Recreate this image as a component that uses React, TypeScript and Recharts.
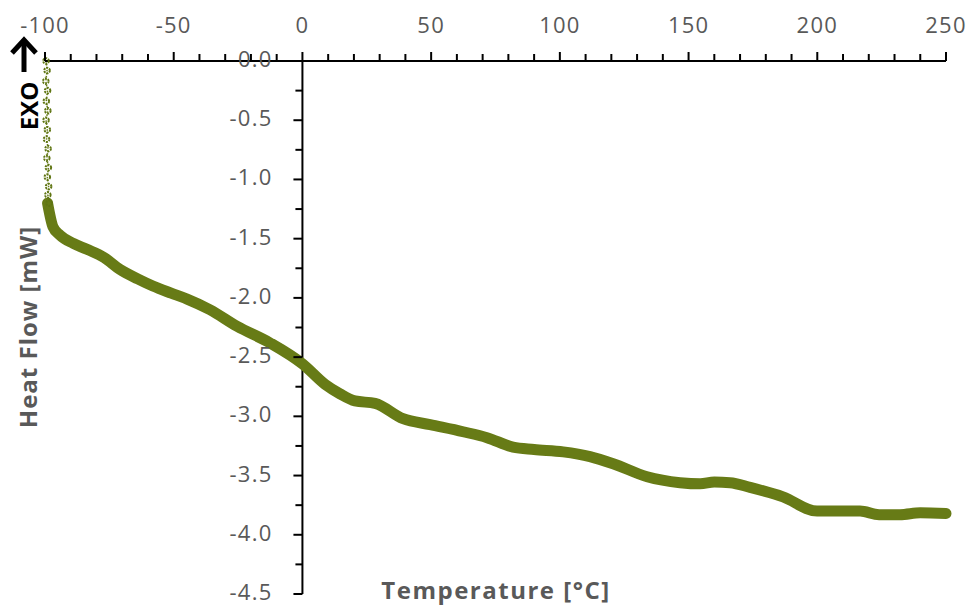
import React from 'react';
import {
    ComposedChart,
    Line,
    XAxis,
    YAxis,
    ReferenceLine,
    ReferenceDot
} from 'recharts';

// steep onset right at the start of the run (sparse markers)
const onsetTemperature = [
    -99.6, -99.2, -99.7, -99.0, -99.5, -98.9, -99.6, -99.1, -99.4, -98.8, -99.3, -98.7,
    -99.1, -98.6, -98.9, -98.4
];
const onsetHeatFlow = [
    0.0, -0.08, -0.17, -0.25, -0.34, -0.42, -0.5, -0.58, -0.66, -0.74, -0.82, -0.9,
    -0.98, -1.06, -1.13, -1.2
];

// main heat flow trace
const temperature = [
    -99.0, -96.9, -94.2, -89.0, -83.7, -77.0, -70.9, -64.0, -58.1, -51.0, -44.8, -35.9,
    -25.4, -12.6, 0.2, 8.8, 14.6, 20.4, 28.2, 39.1, 49.6, 62.4, 71.7, 81.8, 90.0,
    101.3, 111.7, 120.7, 133.9, 146.7, 154.5, 160.0, 166.1, 173.9, 186.7, 199.9,
    216.6, 224.0, 232.1, 240.0, 250.0
];
const heatFlow = [
    -1.2, -1.40, -1.47, -1.54, -1.59, -1.66, -1.76, -1.84, -1.90, -1.96, -2.01, -2.10,
    -2.24, -2.38, -2.56, -2.73, -2.81, -2.87, -2.89, -3.02, -3.07, -3.13, -3.18, -3.26, -3.28,
    -3.30, -3.34, -3.40, -3.51, -3.56, -3.57, -3.555, -3.56, -3.60, -3.68, -3.80,
    -3.80, -3.83, -3.83, -3.815, -3.82
];

const xTicks = [
    -100, -90, -80, -70, -60, -50, -40, -30, -20, -10, 0, 10, 20, 30, 40, 50, 60, 70, 80, 90,
    100, 110, 120, 130, 140, 150, 160, 170, 180, 190, 200, 210, 220, 230, 240, 250
];
const xLabels = [-100, -50, 0, 50, 100, 150, 200, 250];
const yTicks = [
    0, -0.25, -0.5, -0.75, -1, -1.25, -1.5, -1.75, -2, -2.25, -2.5, -2.75, -3, -3.25,
    -3.5, -3.75, -4, -4.25, -4.5
];
const yLabels = ['0.0', '-0.5', '-1.0', '-1.5', '-2.0', '-2.5', '-3.0', '-3.5', '-4.0', '-4.5'];

const onsetData = onsetTemperature.map((t, i) => ({ t, hf: onsetHeatFlow[i] }));
const traceData = temperature.map((t, i) => ({ t, hf: heatFlow[i] }));

const TRACE = '#677b16';
const GREY = '#595959';
const FONT = '"Open Sans", "Noto Sans", sans-serif';

const XTick = (props: any) => {
    const { x, y, payload } = props;
    const major = xLabels.includes(payload.value);
    return (
        <g>
            <line x1={x} x2={x} y1={y} y2={y - (major ? 9 : 7)} stroke="#000" strokeWidth={2} />
            {major && (
                <text x={x} y={y - 28} textAnchor="middle" fill={GREY} fontSize={22}
                    fontFamily={FONT} letterSpacing={1.2}>
                    {payload.value}
                </text>
            )}
        </g>
    );
};

const YTickMark = ({ cx, cy, value }: any) => {
    const idx = yLabels.findIndex((l) => Number(l) === value);
    const major = idx >= 0;
    return (
        <g>
            <line x1={cx} x2={cx - (major ? 9 : 7)} y1={cy} y2={cy} stroke="#000" strokeWidth={2} />
            {major && (
                <text x={cx - 30} y={cy + 6} textAnchor="end" fill={GREY} fontSize={22}
                    fontFamily={FONT} letterSpacing={1.2}>
                    {yLabels[idx]}
                </text>
            )}
        </g>
    );
};

export default function App() {
    return (
        <div style={{ position: 'absolute', left: 0, top: 0, width: 972, height: 605, background: '#fff' }}>
            <ComposedChart width={972} height={605} margin={{ top: 0, right: 26, bottom: 11, left: 45 }}>
                <XAxis
                    type="number"
                    dataKey="t"
                    orientation="top"
                    domain={[-100, 250]}
                    ticks={xTicks}
                    interval={0}
                    height={61}
                    tickSize={0}
                    tickMargin={0}
                    tickLine={false}
                    tick={<XTick />}
                    axisLine={{ stroke: '#000', strokeWidth: 2 }}
                />
                <YAxis type="number" dataKey="hf" domain={[-4.5, 0]} hide width={0} />
                <ReferenceLine x={0} stroke="#000" strokeWidth={2} ifOverflow="visible" />
                {yTicks.map((v) => (
                    <ReferenceDot
                        key={v}
                        x={0}
                        y={v}
                        r={0}
                        ifOverflow="visible"
                        shape={(p: any) => <YTickMark cx={p.cx} cy={p.cy} value={v} />}
                    />
                ))}
                <Line
                    data={onsetData}
                    dataKey="hf"
                    type="linear"
                    stroke={TRACE}
                    strokeWidth={1.5}
                    strokeDasharray="1.5 1.5"
                    dot={{ r: 2.8, stroke: '#5f7512', strokeWidth: 2, fill: 'none', strokeDasharray: '2 1' }}
                    isAnimationActive={false}
                />
                <Line
                    data={traceData}
                    dataKey="hf"
                    type="monotone"
                    stroke={TRACE}
                    strokeWidth={11}
                    strokeLinejoin="round"
                    strokeLinecap="round"
                    dot={false}
                    isAnimationActive={false}
                />
            </ComposedChart>
            <svg width={972} height={605} style={{ position: 'absolute', left: 0, top: 0, pointerEvents: 'none' }}>
                <line x1={24} y1={72} x2={24} y2={42} stroke="#000" strokeWidth={5} />
                <polyline points="12,53 24,40 36,53" fill="none" stroke="#000" strokeWidth={5} />
                <text x={0} y={0} transform="translate(38,106) rotate(-90)" textAnchor="middle"
                    fontFamily={FONT} fontWeight={700} fontSize={24} fill="#000">EXO</text>
                <text x={0} y={0} transform="translate(37,327) rotate(-90)" textAnchor="middle"
                    fontFamily={FONT} fontWeight={700} fontSize={24} letterSpacing={1}
                    fill={GREY}>Heat Flow [mW]</text>
                <text x={496} y={599} textAnchor="middle" fontFamily={FONT} fontWeight={700}
                    fontSize={24} letterSpacing={1.5} fill={GREY}>Temperature [°C]</text>
            </svg>
        </div>
    );
}
